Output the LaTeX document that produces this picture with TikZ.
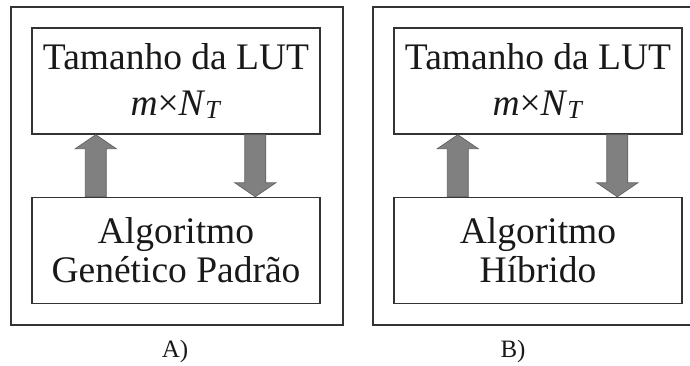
\documentclass[tikz,border=0pt]{standalone}
\usepackage{fontspec}
\setmainfont{Liberation Serif}
\usetikzlibrary{positioning,calc}

\tikzset{
  blk/.style={draw=black!80, line width=1.4pt, minimum width=288pt, minimum height=106pt,
    inner sep=0pt, align=center, text=black!90, font=\fontsize{37.5}{39}\selectfont},
  frm/.style={draw=black!80, line width=1.4pt},
  fatarrow/.style={fill=black!50, draw=black!62, line width=0.7pt},
  panellabel/.style={anchor=base, text=black!90, font=\fontsize{25}{25}\selectfont}
}
% thick block arrow: #1 foot, #2 tip, #3 head length (signed)
\newcommand{\fatarr}[3]{%
  \draw[fatarrow] ($(#1)+(-10.5,0)$) -- ($(#2)+(-10.5,#3)$) -- ($(#2)+(-20.5,#3)$) -- (#2)
    -- ($(#2)+(20.5,#3)$) -- ($(#2)+(10.5,#3)$) -- ($(#1)+(10.5,0)$) -- cycle;}
\newcommand{\lutsize}{\textit{m}×\textit{N}\raisebox{-0.1em}{\fontsize{26}{26}\selectfont\textit{T}}}

\begin{document}
\begin{tikzpicture}[x=1pt,y=-1pt,node distance=362pt,on grid]
   \clip (0,0) rectangle (690,365);
   % outer frames
   \draw[frm] (11,7) rectangle (343,325);
   \draw[frm] (373,7) rectangle (705,325);

   \node[blk] (lutA) at (176,81) {Tamanho da LUT\\[7pt]\lutsize};
   \node[blk] (algA) [below=169.5pt of lutA] {Algoritmo\\Genético Padrão};
   \node[blk] (lutB) [right=of lutA] {Tamanho da LUT\\[7pt]\lutsize};
   \node[blk] (algB) [below=169.5pt of lutB] {Algoritmo\\Híbrido};

   \foreach \p in {A,B} {
     \coordinate (up1\p) at ($(alg\p.north west)+(64.5,0)$);
     \coordinate (up2\p) at ($(lut\p.south west)+(64.5,0)$);
     \coordinate (dn1\p) at ($(lut\p.south west)+(224,0)$);
     \coordinate (dn2\p) at ($(alg\p.north west)+(224,0)$);
     \fatarr{up1\p}{up2\p}{14}
     \fatarr{dn1\p}{dn2\p}{-14}
   }

   \node[panellabel] (labA) at (175,357) {A)};
   \node[panellabel] (labB) at (513,357) {B)};
\end{tikzpicture}
\end{document}
